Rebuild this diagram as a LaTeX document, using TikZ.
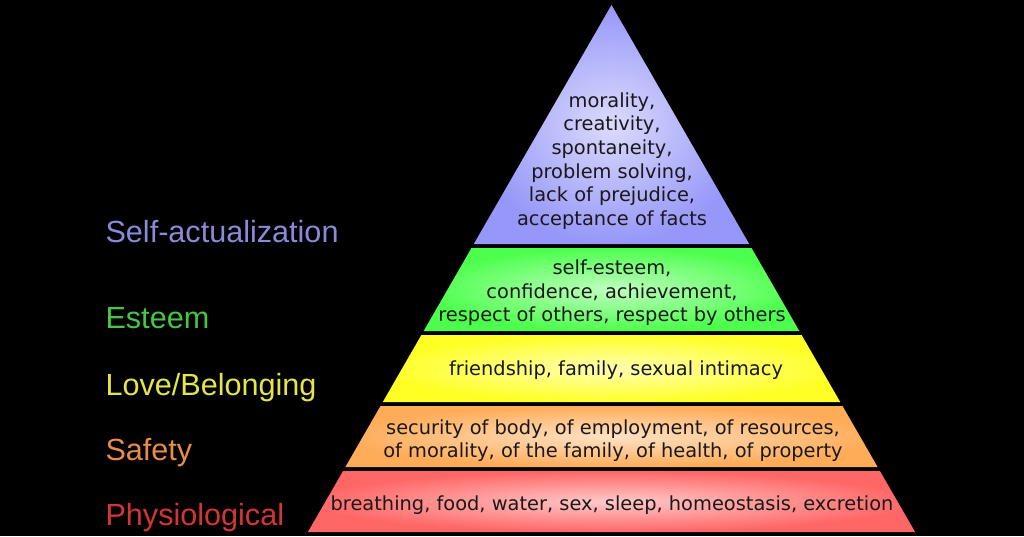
\documentclass[tikz,border=0pt]{standalone}
\usepackage{fontspec}
\setmainfont{DejaVu Sans}
\newfontfamily\levelfont{Liberation Sans}
\usetikzlibrary{positioning}

\definecolor{selfcol}{HTML}{8A8AD8}
\definecolor{esteemcol}{HTML}{44C844}
\definecolor{lovecol}{HTML}{E4E44C}
\definecolor{safetycol}{HTML}{E88C48}
\definecolor{physiocol}{HTML}{D43434}

\tikzset{
  layer/.style={shading=radial, inner color=#1!35!white, outer color=#1},
  needs/.style={align=center, text=black!90, font=\fontsize{19.4}{23.6}\selectfont},
  level/.style={anchor=base west, font=\levelfont\fontsize{30.6}{31}\selectfont}
}

\begin{document}
\begin{tikzpicture}[x=1pt, y={(0pt,-1pt)}]

    \fill[black] (0, 0) rectangle (1024, 536);
    \useasboundingbox (0, 0) rectangle (1024, 536);

    % pyramid layers, top to bottom
    \path[layer=blue!40!white!85!selfcol] (611.5, 5) -- (749.2, 244) -- (473.8, 244) -- cycle;
    \path[layer=green!70!white] (471.5, 248) -- (751.5, 248) -- (799.3, 331) -- (423.7, 331) -- cycle;
    \path[layer=yellow!85!white] (421.4, 335) -- (801.6, 335) -- (840.2, 402) -- (382.8, 402) -- cycle;
    \path[layer=orange!65!white] (380.5, 406) -- (842.5, 406) -- (877.6, 467) -- (345.4, 467) -- cycle;
    \path[layer=red!60!white] (343.1, 471) -- (879.9, 471) -- (915.1, 532) -- (307.9, 532) -- cycle;

    % what each layer holds
    \node[needs] (selfneeds) at (612, 161) {morality,\\ creativity,\\ spontaneity,\\ problem solving,\\ lack of prejudice,\\ acceptance of facts};
    \node[needs] (esteemneeds) at (612, 293) {self-esteem,\\ confidence, achievement,\\ respect of others, respect by others};
    \node[needs] (loveneeds) at (616, 370) {friendship, family, sexual intimacy};
    \node[needs] (safetyneeds) at (613, 440.5) {security of body, of employment, of resources,\\ of morality, of the family, of health, of property};
    \node[needs] (physioneeds) at (612, 505) {breathing, food, water, sex, sleep, homeostasis, excretion};

    % level names on the left
    \node[level, text=selfcol] (selflevel) at (102, 242) {Self-actualization};
    \node[level, text=esteemcol] (esteemlevel) at (102, 328) {Esteem};
    \node[level, text=lovecol] (lovelevel) at (102, 395) {Love/Belonging};
    \node[level, text=safetycol] (safetylevel) at (102, 460) {Safety};
    \node[level, text=physiocol] (physiolevel) at (102, 525) {Physiological};
\end{tikzpicture}
\end{document}
